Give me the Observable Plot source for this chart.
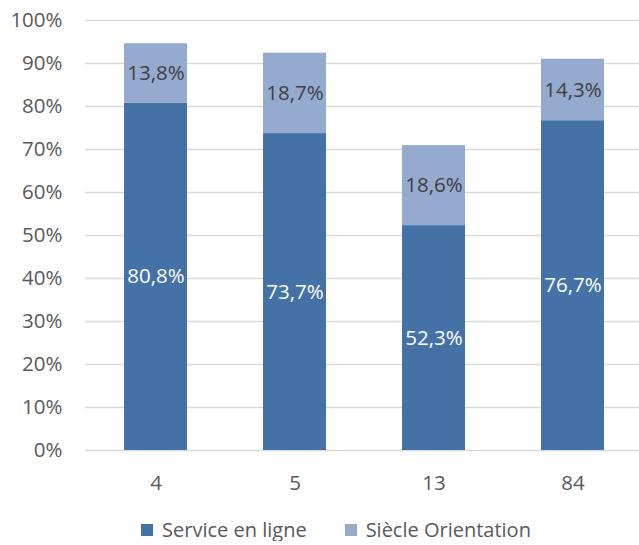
<!DOCTYPE html>
<html>
<head>
<meta charset="utf-8">
<script src="https://cdn.jsdelivr.net/npm/d3@7"></script>
<script src="https://cdn.jsdelivr.net/npm/@observablehq/plot@0.6"></script>
<style>
  body { margin: 0; background: #fff; font-family: "Open Sans", sans-serif; overflow: hidden; }
  #legend { display: flex; justify-content: center; align-items: center; gap: 38px; font-size: 20px; line-height: 22px; color: #595959; height: 22px; margin-top: 14px; padding-left: 33px; }
  .item { display: flex; align-items: center; gap: 9px; }
  .sw { width: 12px; height: 12px; display: inline-block; }
</style>
</head>
<body>
<div id="chart"></div>
<div id="legend"></div>
<script>
const categories = ["4", "5", "13", "84"];
const seriesNames = ["Service en ligne", "Siècle Orientation"];
const serviceEnLigne = [80.8, 73.7, 52.3, 76.7];
const siecleOrientation = [13.8, 18.7, 18.6, 14.3];
const yTicks = [0, 10, 20, 30, 40, 50, 60, 70, 80, 90, 100];
const colors = ["#4472A6", "#95AACF"];
const labelColors = ["#ffffff", "#404040"];

const rows = [];
[serviceEnLigne, siecleOrientation].forEach((vals, s) => {
  vals.forEach((v, i) => rows.push({cat: categories[i], series: seriesNames[s], value: v}));
});

const fmt = v => v.toFixed(1).replace(".", ",") + "%";

const plot = Plot.plot({
  width: 639,
  height: 505,
  marginLeft: 85,
  marginRight: -4,
  marginTop: 20,
  marginBottom: 55,
  style: {fontFamily: "Open Sans, sans-serif", fontSize: "20.5px", color: "#595959", background: "#fff"},
  x: {domain: categories, paddingInner: 0.55, paddingOuter: 0.275, label: null, tickSize: 0, tickPadding: 25},
  y: {domain: [0, 100], ticks: yTicks, tickFormat: d => d + "%", label: null, tickSize: 0, tickPadding: 23},
  color: {domain: seriesNames, range: colors},
  marks: [
    Plot.ruleY(yTicks, {stroke: "#d9d9d9", strokeWidth: 1.3}),
    Plot.barY(rows, Plot.stackY({x: "cat", y: "value", fill: "series"})),
    Plot.text(rows, Plot.stackY({
      x: "cat", y: "value", z: "series",
      text: d => fmt(d.value),
      fill: d => labelColors[seriesNames.indexOf(d.series)],
      fontSize: 20.5
    }))
  ]
});
document.getElementById("chart").appendChild(plot);

const legend = document.getElementById("legend");
seriesNames.forEach((name, i) => {
  const item = document.createElement("div");
  item.className = "item";
  const sw = document.createElement("span");
  sw.className = "sw";
  sw.style.background = colors[i];
  const t = document.createElement("span");
  t.textContent = name;
  item.appendChild(sw);
  item.appendChild(t);
  legend.appendChild(item);
});
</script>
</body>
</html>
